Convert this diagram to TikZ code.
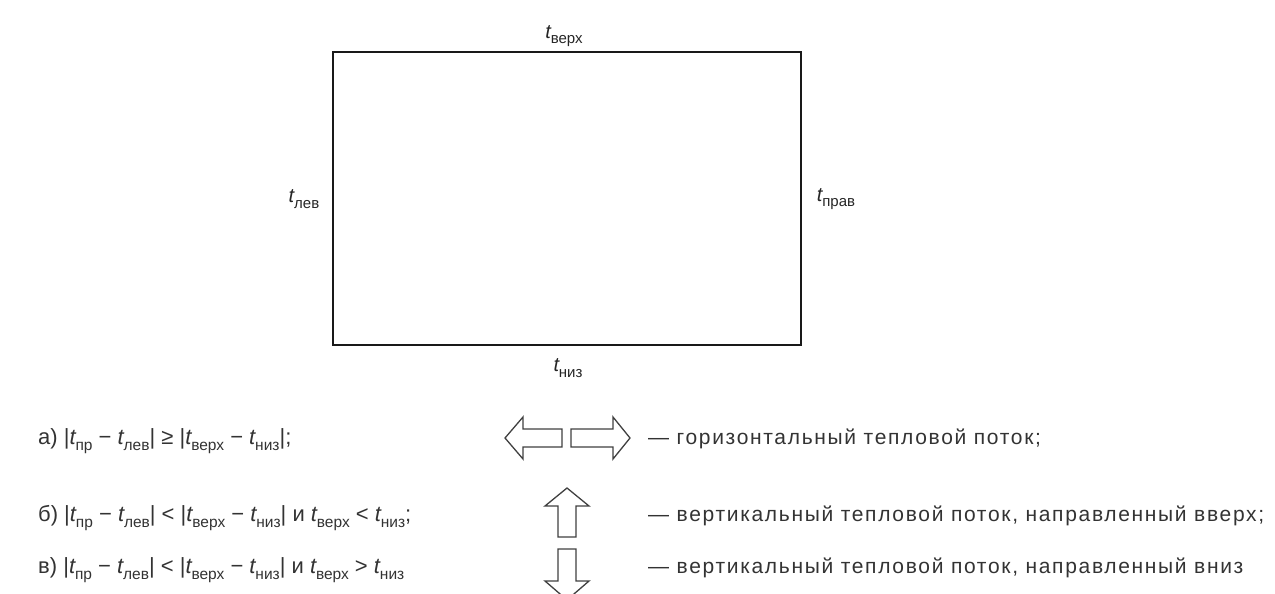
\documentclass[tikz,border=0pt]{standalone}
\usepackage{fontspec}
\setmainfont{Liberation Sans}
\newfontfamily\spaced[LetterSpace=8]{Liberation Sans}
\newcommand\tsub[2][15.5]{\textit{t}\kern-0.04em\raisebox{-0.55ex}{\fontsize{#1}{#1}\selectfont #2}}
\begin{document}
\begin{tikzpicture}[x=1pt,y=-1pt,
  lbl/.style={inner sep=0pt, text=black!85, font=\fontsize{20}{22}\selectfont},
  condtxt/.style={inner sep=0pt, anchor=base west, text=black!80, font=\fontsize{22}{24}\selectfont},
  desctxt/.style={inner sep=0pt, anchor=base west, text=black!80, font=\spaced\fontsize{21}{24}\selectfont},
  flowarrow/.style={draw=black!75, line width=1.3pt, line join=miter, fill=white}]
\useasboundingbox (0,0) rectangle (1275,594);
% rectangle
\node[draw=black!90, line width=2.6pt, minimum width=468pt, minimum height=293pt, inner sep=0pt] (box) at (567,198.5) {};
\node[lbl] (top) at (564,36) {\tsub[15]{верх}};
\node[lbl] (left) at (304,199) {\tsub[15]{лев}};
\node[lbl] (right) at (836,199) {\tsub[15]{прав}};
\node[lbl] (bottom) at (568,368) {\tsub[15]{низ}};
% conditions
\node[condtxt] (ca) at (38,444) {а) |\tsub{пр} − \tsub{лев}| ≥ |\tsub{верх} − \tsub{низ}|;};
\node[condtxt] (cb) at (38,521) {б) |\tsub{пр} − \tsub{лев}| < |\tsub{верх} − \tsub{низ}| и \tsub{верх} < \tsub{низ};};
\node[condtxt] (cc) at (38,573) {в) |\tsub{пр} − \tsub{лев}| < |\tsub{верх} − \tsub{низ}| и \tsub{верх} > \tsub{низ}};
% arrows
\draw[flowarrow] (505,438) -- (523,417) -- (523,429) -- (562,429) -- (562,447) -- (523,447) -- (523,459) -- cycle;
\draw[flowarrow] (630,438) -- (613,417) -- (613,429) -- (571,429) -- (571,447) -- (613,447) -- (613,459) -- cycle;
\draw[flowarrow] (567,488) -- (589,506) -- (576,506) -- (576,537) -- (558,537) -- (558,506) -- (545,506) -- cycle;
\draw[flowarrow] (567,600) -- (589,581) -- (576,581) -- (576,549) -- (558,549) -- (558,581) -- (545,581) -- cycle;
% descriptions
\node[desctxt] (da) at (648,444) {— горизонтальный тепловой поток;};
\node[desctxt] (db) at (648,521) {— вертикальный тепловой поток, направленный вверх;};
\node[desctxt] (dc) at (648,573) {— вертикальный тепловой поток, направленный вниз};
\end{tikzpicture}
\end{document}
